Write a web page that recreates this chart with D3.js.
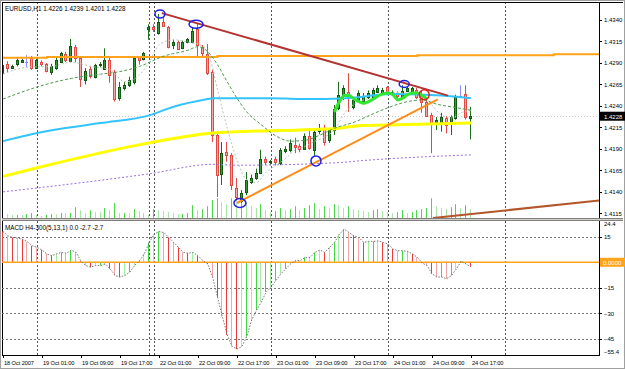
<!DOCTYPE html>
<html>
<head>
<meta charset="utf-8">
<script src="https://cdn.jsdelivr.net/npm/d3@7"></script>
<style>
  body { margin: 0; background: #fff; }
  svg { display: block; font-family: "Liberation Sans", Arial, sans-serif; }
</style>
</head>
<body>
<script>
// ---- data (H1 bars, 18 Oct 17:00 .. 24 Oct 17:00) ----
const opens = [1.4279,1.4289,1.4284,1.4288,1.4291,1.4291,1.4296,1.4284,1.4291,1.4289,
  1.4279,1.4284,1.4291,1.4300,1.4293,1.4309,1.4296,1.4270,1.4283,1.4274,
  1.4288,1.4283,1.4293,1.4279,1.4249,1.4261,1.4264,1.4268,1.4297,1.4295,
  1.4330,1.4332,1.4325,1.4338,1.4332,1.4310,1.4314,1.4307,1.4314,1.4314,
  1.4330,1.4309,1.4300,1.4279,1.4206,1.4160,1.4186,1.4183,1.4144,1.4130,
  1.4140,1.4151,1.4156,1.4162,1.4178,1.4175,1.4178,1.4174,1.4188,1.4189,
  1.4194,1.4193,1.4190,1.4205,1.4189,1.4210,1.4214,1.4200,1.4212,1.4238,
  1.4253,1.4256,1.4239,1.4247,1.4245,1.4250,1.4250,1.4256,1.4255,1.4262,
  1.4255,1.4255,1.4250,1.4258,1.4257,1.4258,1.4253,1.4245,1.4229,1.4220,
  1.4220,1.4226,1.4220,1.4226,1.4252,1.4254,1.4226];
const highs = [1.4290,1.4292,1.4288,1.4297,1.4295,1.4299,1.4298,1.4295,1.4293,1.4290,
  1.4289,1.4297,1.4303,1.4303,1.4318,1.4311,1.4297,1.4284,1.4286,1.4289,
  1.4291,1.4307,1.4297,1.4282,1.4268,1.4268,1.4274,1.4297,1.4298,1.4303,
  1.4335,1.4335,1.4347,1.4345,1.4333,1.4317,1.4316,1.4316,1.4319,1.4331,
  1.4336,1.4311,1.4312,1.4282,1.4208,1.4198,1.4198,1.4185,1.4156,1.4142,
  1.4163,1.4160,1.4167,1.4189,1.4181,1.4177,1.4181,1.4191,1.4193,1.4201,
  1.4203,1.4196,1.4208,1.4214,1.4212,1.4219,1.4218,1.4214,1.4241,1.4268,
  1.4264,1.4278,1.4249,1.4258,1.4255,1.4258,1.4261,1.4264,1.4261,1.4263,
  1.4258,1.4257,1.4264,1.4263,1.4262,1.4261,1.4258,1.4249,1.4232,1.4227,
  1.4232,1.4228,1.4229,1.4253,1.4264,1.4264,1.4239];
const lows = [1.4277,1.4279,1.4283,1.4286,1.4290,1.4285,1.4282,1.4283,1.4286,1.4279,
  1.4276,1.4282,1.4290,1.4291,1.4291,1.4291,1.4262,1.4265,1.4272,1.4272,
  1.4285,1.4282,1.4267,1.4245,1.4246,1.4258,1.4262,1.4265,1.4288,1.4293,
  1.4317,1.4326,1.4323,1.4332,1.4307,1.4306,1.4305,1.4306,1.4313,1.4313,
  1.4298,1.4296,1.4276,1.4198,1.4134,1.4148,1.4175,1.4142,1.4130,1.4127,
  1.4136,1.4149,1.4154,1.4161,1.4171,1.4171,1.4171,1.4171,1.4185,1.4186,
  1.4185,1.4186,1.4189,1.4189,1.4181,1.4207,1.4194,1.4197,1.4206,1.4235,
  1.4247,1.4233,1.4236,1.4245,1.4242,1.4248,1.4249,1.4255,1.4253,1.4254,
  1.4253,1.4249,1.4249,1.4256,1.4255,1.4248,1.4232,1.4227,1.4185,1.4212,
  1.4210,1.4208,1.4206,1.4224,1.4249,1.4224,1.4201];
const closes = [1.4288,1.4284,1.4286,1.4293,1.4293,1.4291,1.4284,1.4293,1.4289,1.4281,
  1.4286,1.4293,1.4302,1.4293,1.4310,1.4296,1.4271,1.4281,1.4275,1.4288,
  1.4289,1.4293,1.4276,1.4247,1.4262,1.4264,1.4270,1.4296,1.4293,1.4302,
  1.4332,1.4330,1.4338,1.4333,1.4309,1.4314,1.4306,1.4314,1.4318,1.4327,
  1.4311,1.4302,1.4278,1.4206,1.4160,1.4185,1.4182,1.4148,1.4134,1.4139,
  1.4154,1.4156,1.4162,1.4178,1.4174,1.4176,1.4174,1.4189,1.4190,1.4197,
  1.4192,1.4189,1.4205,1.4191,1.4210,1.4214,1.4198,1.4212,1.4236,1.4253,
  1.4261,1.4249,1.4247,1.4255,1.4251,1.4255,1.4258,1.4261,1.4258,1.4256,
  1.4256,1.4251,1.4257,1.4261,1.4261,1.4250,1.4245,1.4229,1.4220,1.4224,
  1.4227,1.4218,1.4227,1.4250,1.4252,1.4227,1.4228];
const volumes = [150,120,90,95,85,120,150,90,60,95, 120,115,150,145,155,330,240,150,235,180,
  175,300,240,450,150,155,145,270,210,150, 90,270,240,210,180,150,120,125,150,390,
  240,270,360,540, 600,480,420,600,510,660,480,360,300,420, 240,180,210,300,240,270,360,240,300,390,
  450,270,360,300,420,390,300,360,270,240, 210,180,240,270,210,180,150,180,240,150,
  180,240,270,300,600,360,300,270,330,420, 300,390,270];
const macd = [18.1,15.6,14.6,14.2,13.6,12.1,9.7,8.8,7.2,4.9,
  3.9,4.9,5.8,5.3,7.2,5.8,0.6,-1.9,-2.9,-1.9,
  -1.9,-1.0,-3.9,-7.8,-8.7,-7.8,-5.8,-1.9,1.0,4.9,
  11.7,16.5,18.1,17.5,14.6,11.7,8.8,5.8,5.3,5.8,
  3.9,1.0,-1.0,-8.7,-20.4,-32.0,-42.8,-49.6,-51.1,-49.6,
  -43.8,-34.0,-28.2,-23.3,-17.5,-14.6,-10.7,-6.8,-3.9,-1.0,
  1.0,1.0,2.9,2.9,5.8,7.2,5.8,8.8,11.7,16.5,
  19.5,17.5,15.6,14.6,11.7,12.3,12.3,12.6,11.7,10.7,
  7.8,6.8,6.8,6.4,4.9,2.9,-0.5,-1.9,-6.8,-8.7,
  -8.7,-9.7,-7.8,-3.9,0.6,-1.0,-2.7];

// moving averages as [bar, price]
const maOrange = [[0,1.4296],[9,1.4297],[44,1.4298],[85,1.4299],[113,1.4300],[122.5,1.4300]];
const maCyan = [[0,1.4199],[7,1.42085],[20,1.4220],[30,1.4229],[35,1.4239],[42,1.4248],[43,1.4249],
  [55,1.4249],[61,1.4248],[66,1.4248],[73,1.4250],[77,1.4253],[81,1.4254],[90,1.4252],[96,1.4249]];
const maYellow = [[0,1.4158],[7,1.4168],[30,1.4197],[43,1.42085],[48,1.4210],[61,1.4212],
  [69,1.4214],[73,1.4217],[81,1.4218],[96,1.4220]];
const maPurple = [[0,1.4140],[7,1.41445],[30,1.4161],[43,1.4172],[48,1.4171],[69,1.4174],[73,1.4176],[96,1.4183]];
const maSlow = [[0,1.4248],[7,1.4262],[14,1.4272],[20,1.4277],[24,1.4280],[28,1.4286],[33,1.4298],
  [38,1.4305],[40,1.4309],[42,1.4303],[44,1.4288],[46,1.4268],[48,1.4249],[50,1.4233],[53,1.4218],
  [56,1.4205],[59,1.4199],[62,1.4200],[65,1.4206],[68,1.4214],[72,1.4221],[76,1.4231],[79,1.4238],
  [83,1.4245],[86,1.4247],[89,1.4242],[93,1.4238],[96,1.4235]];
const maFast = [[0,1.4277],[5,1.4285],[10,1.4286],[14,1.4291],[18,1.4286],[22,1.4282],[25,1.4268],
  [28,1.4276],[30,1.4291],[32,1.4311],[35,1.4317],[38,1.4314],[40,1.4312],[42,1.4303],[44,1.4259],
  [46,1.4214],[48,1.4177],[50,1.4154],[52,1.4151],[54,1.4163],[56,1.4171],[58,1.4179],[60,1.4189],
  [62,1.4193],[64,1.4199],[66,1.4204],[68,1.4212],[70,1.4231],[72,1.4242],[74,1.4247],[76,1.4250],
  [78,1.4255],[80,1.4256],[82,1.4255],[84,1.4256],[86,1.4253],[88,1.4241],[90,1.4229],[92,1.4226],
  [94,1.4232],[96,1.4235]];
const maLime = [[68,1.4233],[69,1.4245],[70,1.4252],[71,1.4252],[72,1.4248],[73,1.4245],[74,1.4243],
  [75,1.4245],[76,1.4248],[77,1.4252],[78,1.4254],[79,1.4255],[80,1.4253],[81,1.4247],[82,1.4249],
  [83,1.4253],[84,1.4255],[85,1.4255],[86,1.4252],[87,1.4248]];

// drawn objects: trend lines and marker ellipses [bar, price]
const trendRed = [[32.6,1.4348],[91.3,1.4252]];
const trendOrange = [[48,1.4127],[89.2,1.42475]];
const trendBrown = [[88.2,1.41095],[122.5,1.4130]];
const blueMarks = [[32.2,1.4347],[39.6,1.4335],[82.3,1.42655],[64.2,1.4176],[48.6,1.4127]];
const redMarks = [[86.4,1.4253]];

const priceTicks = [1.4340,1.4315,1.4290,1.4265,1.4240,1.4215,1.4190,1.4165,1.4140,1.4115];
const macdTicks = [15,-15,-30,-45];
const macdRange = [24.4,-55.4];
const gridBars = [7,30,31,55,79,103];
const timeBars = [0,8,16,24,32,40,48,56,64,72,80,88,96];
const timeLabels = ["18 Oct 2007","19 Oct 01:00","19 Oct 09:00","19 Oct 17:00","22 Oct 01:00",
  "22 Oct 09:00","22 Oct 17:00","23 Oct 01:00","23 Oct 09:00","23 Oct 17:00","24 Oct 01:00",
  "24 Oct 09:00","24 Oct 17:00"];

// ---- layout ----
const W = 625, H = 369;
const px = {left: 2, right: 599, top: 2, bottom: 218};
const mx = {top: 221, bottom: 355};

const svg = d3.select("body").append("svg").attr("width", W).attr("height", H);

const x = d3.scaleLinear().domain([0, 96]).range([3, 471]);
const y = d3.scaleLinear().domain([1.4115, 1.4340]).range([213.3, 20]);
const yv = d3.scaleLinear().domain([0, 700]).range([218, 195]);
const ym = d3.scaleLinear().domain([-45, 15]).range([338.7, 236.8]);
const fmt = d3.format(".4f");
const N = closes.length;

// frame
svg.append("rect").attr("x", 0).attr("y", 0).attr("width", W).attr("height", H).attr("fill", "#fff");
svg.append("rect").attr("x", 0.5).attr("y", 0.5).attr("width", W - 1).attr("height", H - 1)
  .attr("fill", "none").attr("stroke", "#a0a0a0");

const defs = svg.append("defs");
defs.append("clipPath").attr("id", "clipMain").append("rect")
  .attr("x", px.left).attr("y", px.top).attr("width", px.right - px.left).attr("height", px.bottom - px.top);
defs.append("clipPath").attr("id", "clipMacd").append("rect")
  .attr("x", px.left).attr("y", mx.top).attr("width", px.right - px.left).attr("height", mx.bottom - mx.top);

// vertical grid
[[px.top, px.bottom], [mx.top, mx.bottom]].forEach(([t, b]) => {
  svg.append("g").selectAll("line").data(gridBars).join("line")
    .attr("x1", d => Math.round(x(d)) + 0.5).attr("x2", d => Math.round(x(d)) + 0.5)
    .attr("y1", t).attr("y2", b)
    .attr("stroke", "#555").attr("stroke-dasharray", "2,2");
});

// ---- main panel ----
const gMain = svg.append("g").attr("clip-path", "url(#clipMain)");

// bid line
gMain.append("line").attr("x1", px.left).attr("x2", px.right)
  .attr("y1", Math.round(y(closes[N - 1])) + 0.5).attr("y2", Math.round(y(closes[N - 1])) + 0.5)
  .attr("stroke", "#c8c8c8").attr("stroke-dasharray", "1,2");

// volumes
gMain.append("g").selectAll("line").data(volumes).join("line")
  .attr("x1", (d, i) => Math.round(x(i)) - 0.5).attr("x2", (d, i) => Math.round(x(i)) - 0.5)
  .attr("y1", yv(0)).attr("y2", d => yv(d))
  .attr("stroke", (d, i) => (i > 0 && d < volumes[i - 1]) ? "#a8e6a8" : "#4cd64c");

// candles
const bars = d3.range(N);
const gC = gMain.append("g");
gC.selectAll("line").data(bars).join("line")
  .attr("x1", i => Math.round(x(i)) - 0.5).attr("x2", i => Math.round(x(i)) - 0.5)
  .attr("y1", i => y(highs[i])).attr("y2", i => y(lows[i]))
  .attr("stroke", i => closes[i] === opens[i] ? "#8c8cff" : closes[i] > opens[i] ? "#1c6e1c" : "#e04a44");
gC.selectAll("rect").data(bars.filter(i => closes[i] !== opens[i])).join("rect")
  .attr("x", i => Math.round(x(i)) - 1.5).attr("width", 2)
  .attr("y", i => Math.round(y(Math.max(opens[i], closes[i]))) + 0.5)
  .attr("height", i => Math.max(1, Math.round(Math.abs(y(opens[i]) - y(closes[i])))))
  .attr("fill", i => closes[i] > opens[i] ? "#3a9a3a" : "#f5aaa6")
  .attr("stroke", i => closes[i] > opens[i] ? "#0e5a0e" : "#e04a44");
gC.selectAll("line.doji").data(bars.filter(i => closes[i] === opens[i])).join("line")
  .attr("class", "doji")
  .attr("x1", i => Math.round(x(i)) - 2).attr("x2", i => Math.round(x(i)) + 1)
  .attr("y1", i => Math.round(y(closes[i])) + 0.5).attr("y2", i => Math.round(y(closes[i])) + 0.5)
  .attr("stroke", "#8c8cff");

// moving averages
const line = d3.line().x(d => x(d[0])).y(d => y(d[1]));
function drawMa(data, color, width, dash, curve) {
  gMain.append("path").datum(data)
    .attr("d", line.curve(curve || d3.curveMonotoneX))
    .attr("fill", "none").attr("stroke", color).attr("stroke-width", width)
    .attr("stroke-dasharray", dash || null);
}
drawMa(maPurple, "#9b6fe0", 1, "2,2");
drawMa(maYellow, "#ffff00", 3);
drawMa(maCyan, "#33c4ff", 2);
drawMa(maOrange, "#ffa31a", 2, null, d3.curveStepAfter);
drawMa(maFast, "#b4c8b4", 1, "2,2");
drawMa(maSlow, "#4d9a4d", 1, "3,2");
drawMa(maLime, "#33e633", 3);

// trend lines
const lineStraight = d3.line().x(d => x(d[0])).y(d => y(d[1]));
[[trendBrown, "#b4562a"], [trendOrange, "#ff8c1a"], [trendRed, "#b33333"]].forEach(([d, c]) => {
  gMain.append("path").attr("d", lineStraight(d)).attr("fill", "none")
    .attr("stroke", c).attr("stroke-width", 2);
});

// marker ellipses
const markSize = [[5, 4], [7, 4], [5, 3.5], [5, 5], [6, 4.5]];
gMain.append("g").selectAll("ellipse").data(blueMarks).join("ellipse")
  .attr("cx", d => x(d[0])).attr("cy", d => y(d[1]))
  .attr("rx", (d, i) => markSize[i][0]).attr("ry", (d, i) => markSize[i][1])
  .attr("fill", "none").attr("stroke", "#1f1fe6").attr("stroke-width", 1.5);
gMain.append("g").selectAll("ellipse").data(redMarks).join("ellipse")
  .attr("cx", d => x(d[0])).attr("cy", d => y(d[1])).attr("rx", 5).attr("ry", 5)
  .attr("fill", "none").attr("stroke", "#e61f1f").attr("stroke-width", 1.5);

// header
svg.append("text").attr("x", 5).attr("y", 11).attr("font-size", 6.3).attr("fill", "#000")
  .text(`EURUSD,H1  ${fmt(opens[N - 1])} ${fmt(highs[N - 1])} ${fmt(lows[N - 1])} ${fmt(closes[N - 1])}`);

// price axis
const gP = svg.append("g");
gP.selectAll("line").data(priceTicks).join("line")
  .attr("x1", px.right).attr("x2", px.right + 3)
  .attr("y1", d => Math.round(y(d)) + 0.5).attr("y2", d => Math.round(y(d)) + 0.5).attr("stroke", "#000");
gP.selectAll("text").data(priceTicks).join("text")
  .attr("x", px.right + 5).attr("y", d => y(d) + 2.3).attr("font-size", 6).attr("fill", "#000")
  .text(d => fmt(d));
const lastY = y(closes[N - 1]);
gP.append("rect").attr("x", px.right + 1).attr("y", lastY - 4.5).attr("width", 25).attr("height", 9).attr("fill", "#000");
gP.append("text").attr("x", px.right + 5).attr("y", lastY + 2.3).attr("font-size", 6).attr("fill", "#fff")
  .text(fmt(closes[N - 1]));

// main panel borders
svg.append("line").attr("x1", px.left + 0.5).attr("x2", px.left + 0.5).attr("y1", px.top).attr("y2", mx.bottom).attr("stroke", "#000");
svg.append("line").attr("x1", px.right + 0.5).attr("x2", px.right + 0.5).attr("y1", px.top).attr("y2", mx.bottom).attr("stroke", "#000");
svg.append("line").attr("x1", px.left).attr("x2", W - 2).attr("y1", px.top + 0.5).attr("y2", px.top + 0.5).attr("stroke", "#000");
svg.append("rect").attr("x", px.left).attr("y", px.bottom).attr("width", W - 4).attr("height", mx.top - px.bottom)
  .attr("fill", "#d4d0c8");
svg.append("line").attr("x1", px.left).attr("x2", W - 2).attr("y1", px.bottom + 0.5).attr("y2", px.bottom + 0.5).attr("stroke", "#808080");
svg.append("line").attr("x1", px.left).attr("x2", W - 2).attr("y1", mx.top - 0.5).attr("y2", mx.top - 0.5).attr("stroke", "#808080");

// ---- MACD panel ----
const gM = svg.append("g").attr("clip-path", "url(#clipMacd)");
gM.selectAll("line.grid").data(macdTicks).join("line").attr("class", "grid")
  .attr("x1", px.left).attr("x2", px.right)
  .attr("y1", d => Math.round(ym(d)) + 0.5).attr("y2", d => Math.round(ym(d)) + 0.5)
  .attr("stroke", "#777").attr("stroke-dasharray", "2,2");
gM.append("g").selectAll("line").data(macd).join("line")
  .attr("x1", (d, i) => Math.round(x(i)) - 0.5).attr("x2", (d, i) => Math.round(x(i)) - 0.5)
  .attr("y1", ym(0)).attr("y2", d => ym(d))
  .attr("stroke", (d, i) => {
    const up = i === 0 ? false : d >= macd[i - 1];
    if (up) return i % 2 ? "#a4eca4" : "#3fd83f";
    return i % 2 ? "#f4a4a4" : "#ec3a3a";
  });
gM.append("line").attr("x1", px.left).attr("x2", px.right)
  .attr("y1", ym(0)).attr("y2", ym(0)).attr("stroke", "#ffa31a").attr("stroke-width", 1.5);
gM.append("path").datum(macd)
  .attr("d", d3.line().x((d, i) => x(i)).y(d => ym(d)))
  .attr("fill", "none").attr("stroke", "#777").attr("stroke-dasharray", "1.5,1.5");

svg.append("text").attr("x", 5).attr("y", 230).attr("font-size", 6.3).attr("fill", "#000")
  .text(`MACD H4-300(5,13,1) 0.0 ${macd[N - 1].toFixed(1)} ${macd[N - 1].toFixed(1)}`);

// MACD axis
const gMa = svg.append("g");
const macdLabels = [macdRange[0]].concat(macdTicks, [macdRange[1]]);
gMa.selectAll("line").data(macdTicks).join("line")
  .attr("x1", px.right).attr("x2", px.right + 3)
  .attr("y1", d => Math.round(ym(d)) + 0.5).attr("y2", d => Math.round(ym(d)) + 0.5).attr("stroke", "#000");
gMa.selectAll("text").data(macdLabels).join("text")
  .attr("x", px.right + 5)
  .attr("y", d => Math.min(mx.bottom - 3, Math.max(mx.top + 3, ym(d))) + 2.3)
  .attr("font-size", 6).attr("fill", "#000").text(d => d3.format("~f")(d));
gMa.append("rect").attr("x", px.right + 1).attr("y", ym(0) - 4.5).attr("width", 25).attr("height", 9).attr("fill", "#ffa31a");
gMa.append("text").attr("x", px.right + 4).attr("y", ym(0) + 2.3).attr("font-size", 6).attr("fill", "#fff").text("0.0000");

// bottom border and time axis
svg.append("line").attr("x1", px.left).attr("x2", px.right + 1).attr("y1", mx.bottom + 0.5).attr("y2", mx.bottom + 0.5).attr("stroke", "#000");
const gT = svg.append("g");
gT.selectAll("line").data(timeBars).join("line")
  .attr("x1", d => Math.round(x(d)) + 0.5).attr("x2", d => Math.round(x(d)) + 0.5)
  .attr("y1", mx.bottom).attr("y2", mx.bottom + 3).attr("stroke", "#000");
gT.selectAll("text").data(timeBars).join("text")
  .attr("x", d => Math.round(x(d)) + 1).attr("y", mx.bottom + 10)
  .attr("font-size", 5.7).attr("letter-spacing", -0.1).attr("fill", "#000")
  .text((d, i) => timeLabels[i]);
</script>
</body>
</html>
